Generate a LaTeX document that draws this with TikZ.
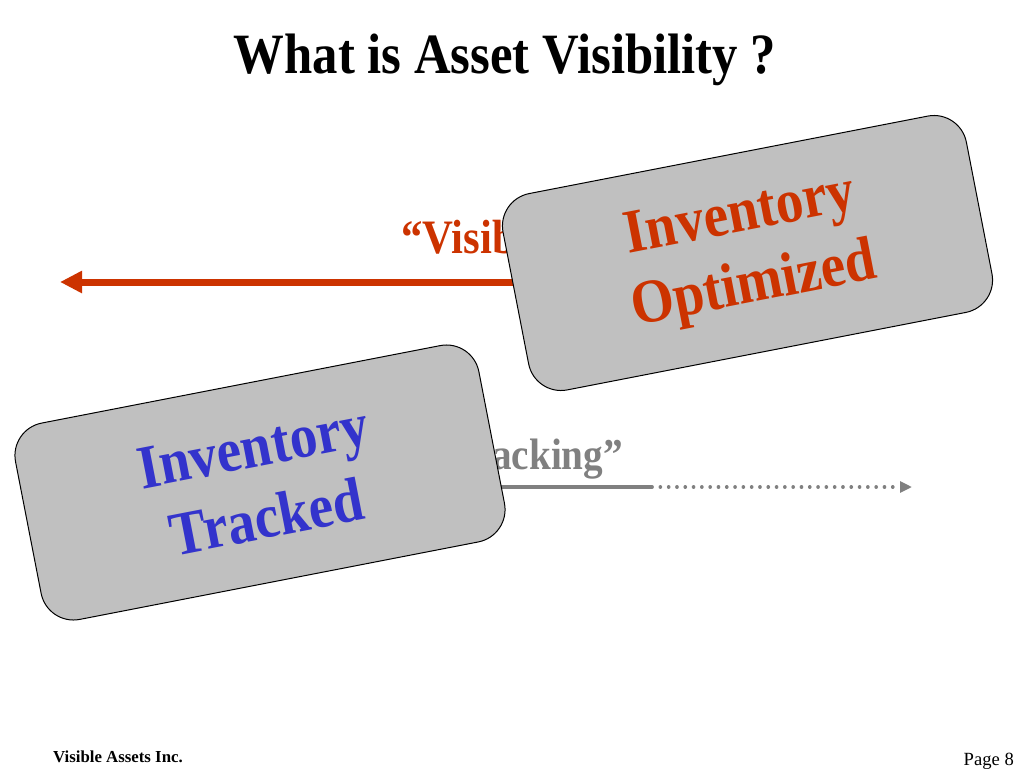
\documentclass[tikz,border=0pt]{standalone}
\usepackage{fontspec}
\setmainfont[FakeStretch=0.89]{Liberation Serif}
\newfontfamily\footfont{Liberation Serif}
\usepackage{xcolor}
\usetikzlibrary{arrows.meta,shapes,positioning}
\definecolor{visred}{RGB}{204,51,0}
\definecolor{trkblue}{RGB}{51,51,204}
\definecolor{trkgray}{RGB}{128,128,128}
\definecolor{cardgray}{RGB}{192,192,192}

\begin{document}
\begin{tikzpicture}[x=1pt, y=-1pt,
    card/.style={rectangle, draw=black, fill=cardgray, line width=1pt, rounded corners=33pt, minimum width=472pt, minimum height=200pt, rotate=11, align=center, font=\fontsize{62}{72}\selectfont\bfseries},
    label/.style={inner sep=0pt, font=\fontsize{48}{50}\selectfont\bfseries},
    visarrow/.style={-{Triangle[length=22pt,width=21pt]}, line width=7pt, visred},
    trkarrow/.style={-{Triangle[length=12pt,width=11pt]}, line width=3.6pt, trkgray, line cap=round, dash pattern=on 0.1pt off 8.2pt}
]
    \useasboundingbox (0,0) rectangle (1024,768);

    \node[inner sep=0pt, anchor=base, font=\fontsize{57}{60}\selectfont\bfseries] (title) at (505,73) {What is Asset Visibility ?};

    % visibility arrow, runs under the top card
    \node[label, text=visred, anchor=base west] (vislabel) at (401,253) {``Visibility''};
    \coordinate (visR) at (640,282);
    \coordinate (visL) at (60,282);
    \draw[visarrow] (visR) -- (visL);

    % tracking arrow, solid then dotted
    \node[label, text=trkgray, anchor=base east, font=\fontsize{44}{50}\selectfont\bfseries] (trklabel) at (623,469) {``Tracking''};
    \coordinate (trkL) at (380,487);
    \coordinate (trkM) at (652,487);
    \coordinate (trkR) at (912,487);
    \draw[line width=4.5pt, trkgray] (trkL) -- (trkM);
    \draw[trkarrow] (trkM) -- (trkR);

    \node[card, text=visred] (optimized) at (747.5,253) {Inventory\\Optimized};
    \node[card, text=trkblue] (tracked) at (260,482.5) {Inventory\\Tracked};

    \node[anchor=base west, inner sep=0pt, font=\footfont\fontsize{16.8}{18}\selectfont\bfseries] (company) at (53,762) {Visible Assets Inc.};
    \node[anchor=base east, inner sep=0pt, font=\footfont\fontsize{18.6}{20}\selectfont] (page) at (1014,765) {Page 8};
\end{tikzpicture}
\end{document}
